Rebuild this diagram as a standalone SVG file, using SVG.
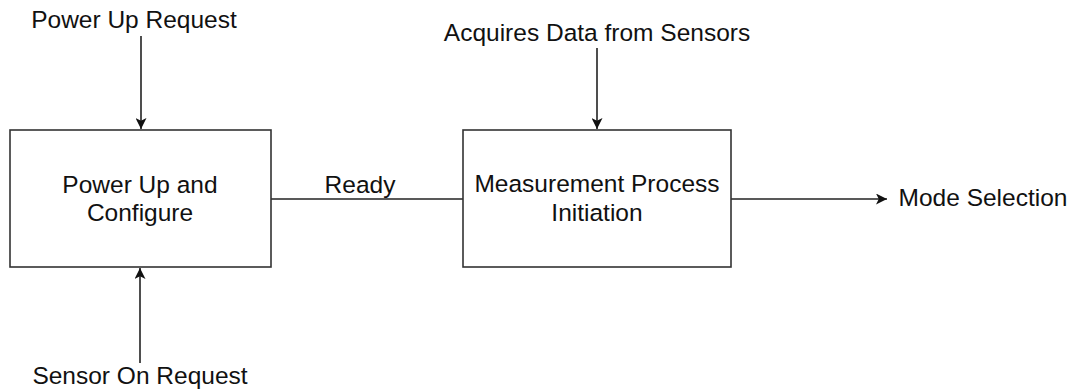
<svg xmlns="http://www.w3.org/2000/svg" width="1074" height="391" viewBox="0 0 1074 391">
<style>
text{font-family:"Liberation Sans",Arial,sans-serif;font-size:24.5px;fill:#111;text-anchor:middle}
.box{fill:#fff;stroke:#333;stroke-width:1.6}
.ln{stroke:#222;stroke-width:1.6;fill:none}
</style>
<defs>
<marker id="ah" viewBox="0 0 10 10" refX="10" refY="5" markerWidth="11" markerHeight="11" markerUnits="userSpaceOnUse" orient="auto">
<path d="M0,0 L10,5 L0,10 L2.5,5 Z" fill="#111"/>
</marker>
</defs>
<rect width="1074" height="391" fill="#fff"/>
<g id="connectors">
<line class="ln" x1="141" y1="36" x2="141" y2="129" marker-end="url(#ah)"/>
<line class="ln" x1="140" y1="363" x2="140" y2="268" marker-end="url(#ah)"/>
<line class="ln" x1="597" y1="48" x2="597" y2="129" marker-end="url(#ah)"/>
<line class="ln" x1="271" y1="199" x2="463" y2="199"/>
<line class="ln" x1="731" y1="199" x2="887" y2="199" marker-end="url(#ah)"/>
<text x="360" y="193">Ready</text>
</g>
<g id="powerup">
<rect class="box" x="10" y="130" width="261" height="137"/>
<text x="140" y="193">Power Up and</text>
<text x="140" y="221">Configure</text>
</g>
<g id="measure">
<rect class="box" x="463" y="130" width="268" height="137"/>
<text x="597" y="192">Measurement Process</text>
<text x="597" y="221">Initiation</text>
</g>
<g id="labels">
<text x="134" y="27.5">Power Up Request</text>
<text x="597" y="41">Acquires Data from Sensors</text>
<text x="983" y="206">Mode Selection</text>
<text x="140" y="384">Sensor On Request</text>
</g>
</svg>
